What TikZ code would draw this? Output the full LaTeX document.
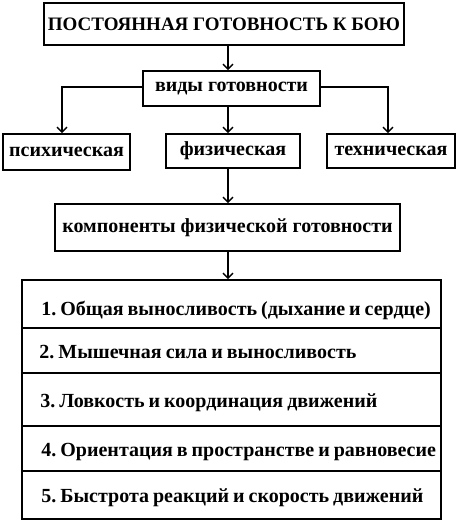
\documentclass[tikz,border=0pt]{standalone}
\usepackage{fontspec}
\setmainfont{Liberation Serif}
\newfontfamily\rowfont{Liberation Serif}[WordSpace=0.8]
\usetikzlibrary{arrows.meta}
\tikzset{
  box/.style={draw, line width=1.6pt, rectangle, inner sep=0pt, font=\bfseries},
  lbl/.style={font=\bfseries\fontsize{20}{22}\selectfont},
  arr/.style={line width=1.5pt, -{Straight Barb[length=5pt,width=10pt,line width=1.4pt]}},
  rowbox/.style={draw, line width=1.6pt, rectangle, minimum width=419pt, inner sep=0pt},
  rowtext/.style={anchor=west, inner sep=0pt, font=\rowfont\bfseries\fontsize{20}{22}\selectfont}
}
\begin{document}
\frenchspacing
\begin{tikzpicture}[x=1pt,y=-1pt]
\useasboundingbox (0,0) rectangle (461,522);
\node[box, minimum width=360pt, minimum height=42pt, font=\bfseries\fontsize{19}{21}\selectfont] (top) at (224,24) {ПОСТОЯННАЯ ГОТОВНОСТЬ К БОЮ};
\node[box, lbl, minimum width=177pt, minimum height=35pt] (vidy) at (231.5,88.5) {виды готовности};
\node[box, lbl, minimum width=127pt, minimum height=36pt] (psy) at (66.5,152) {психическая};
\node[box, lbl, minimum width=134pt, minimum height=34pt] (fiz) at (233,151) {физическая};
\node[box, lbl, minimum width=128pt, minimum height=34pt] (tech) at (391,151) {техническая};
\node[box, lbl, minimum width=345pt, minimum height=47pt] (comp) at (227.5,227.5) {компоненты физической готовности};
\node[rowbox, minimum height=48pt] (r1) at (231.5,304) {};
\node[rowbox, minimum height=45pt] (r2) at (231.5,350.5) {};
\node[rowbox, minimum height=53pt] (r3) at (231.5,399.5) {};
\node[rowbox, minimum height=45pt] (r4) at (231.5,448.5) {};
\node[rowbox, minimum height=48pt] (r5) at (231.5,495) {};
\node[rowtext] (t1) at ([xshift=20pt,yshift=-6pt]r1.west) {1. Общая выносливость (дыхание и сердце)};
\node[rowtext] (t2) at ([xshift=18pt,yshift=-2pt]r2.west) {2. Мышечная сила и выносливость};
\node[rowtext] (t3) at ([xshift=19pt,yshift=-3pt]r3.west) {3. Ловкость и координация движений};
\node[rowtext] (t4) at ([xshift=20pt,yshift=-4pt]r4.west) {4. Ориентация в пространстве и равновесие};
\node[rowtext] (t5) at ([xshift=20pt,yshift=-3pt]r5.west) {5. Быстрота реакций и скорость движений};
\coordinate (ax) at (228,0);
\coordinate (lx) at (62,0);
\coordinate (rx) at (388,0);
\coordinate (ly) at (0,87);
\draw[arr] (ax |- top.south) -- (ax |- vidy.north);
\draw[arr] (ax |- vidy.south) -- (ax |- fiz.north);
\draw[arr] (vidy.west |- ly) -- (lx |- ly) -- (lx |- psy.north);
\draw[arr] (vidy.east |- ly) -- (rx |- ly) -- (rx |- tech.north);
\draw[arr] (ax |- fiz.south) -- (ax |- comp.north);
\draw[arr] (ax |- comp.south) -- (ax |- r1.north);
\end{tikzpicture}
\end{document}
